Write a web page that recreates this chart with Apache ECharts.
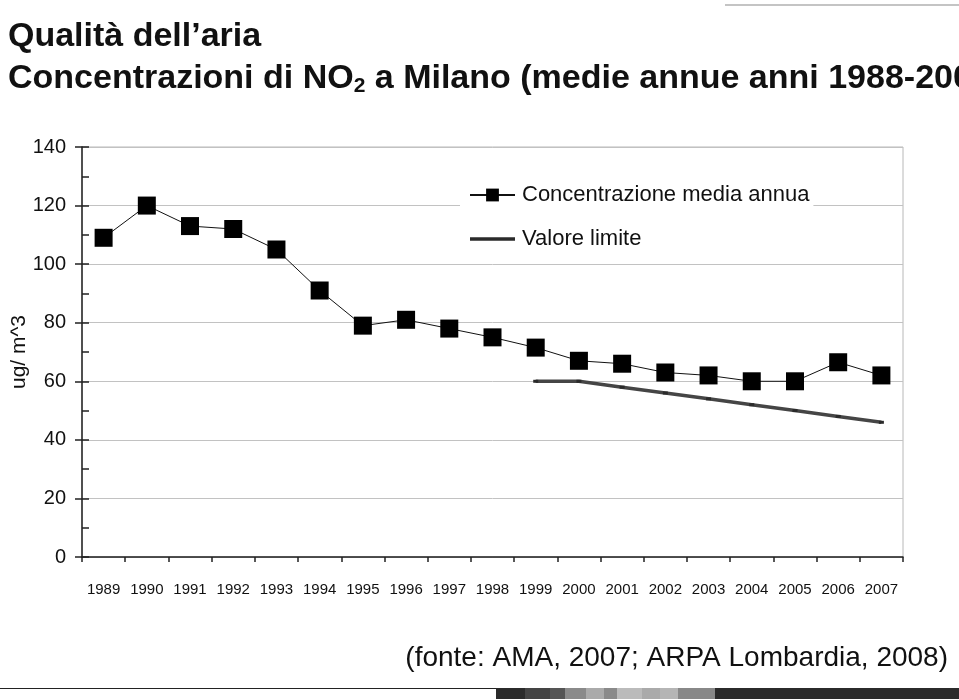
<!DOCTYPE html>
<html><head><meta charset="utf-8">
<script src="https://cdn.jsdelivr.net/npm/echarts@6/dist/echarts.min.js"></script>
<style>html,body{margin:0;padding:0;background:#fff}#c{width:959px;height:700px}</style>
</head><body><div id="c"></div>
<script>
// ---- data ----
const years = ['1989','1990','1991','1992','1993','1994','1995','1996','1997','1998',
               '1999','2000','2001','2002','2003','2004','2005','2006','2007'];
const concentrazione = [109,120,113,112,105,91,79,81,78,75,71.5,67,66,63,62,60,60,66.5,62];
const valoreLimite = [null,null,null,null,null,null,null,null,null,null,60,60,58,56,54,52,50,48,46];
const seriesNames = ['Concentrazione media annua','Valore limite'];
const yMin = 0, yMax = 140, yStep = 20, yMinorStep = 10;
const titleLine1 = 'Qualità dell\u2019aria';
const titleLine2a = 'Concentrazioni di NO', titleSub = '2', titleLine2b = ' a Milano (medie annue anni 1988-2007)';
const yAxisName = 'ug/ m^3';
const sourceText = '(fonte: AMA, 2007; ARPA Lombardia, 2008)';

const FONT = '"Liberation Sans", Arial, Helvetica, sans-serif';
const chart = echarts.init(document.getElementById('c'), null, {renderer:'canvas'});

// decorative footer strip (greys)
const strip = [[496,525,'#2b2b2b'],[525,550,'#444'],[550,565,'#555'],[565,586,'#8a8a8a'],[586,604,'#aaa'],
  [604,617,'#8a8a8a'],[617,642,'#bbb'],[642,660,'#aaa'],[660,678,'#b5b5b5'],[678,715,'#888'],[715,959,'#2b2b2b']];
const graphics = strip.map(s => ({type:'rect', silent:true, shape:{x:s[0], y:688, width:s[1]-s[0], height:11}, style:{fill:s[2]}}));
graphics.push({type:'line', silent:true, shape:{x1:0,y1:688.5,x2:496,y2:688.5}, style:{stroke:'#222', lineWidth:1}});
graphics.push({type:'line', silent:true, shape:{x1:725,y1:5,x2:959,y2:5}, style:{stroke:'#c4c4c4', lineWidth:2}});
graphics.push({type:'text', silent:true, x:948, y:658, style:{text:sourceText, font:'28px '+FONT, fill:'#111', align:'right', verticalAlign:'middle'}});

chart.setOption({
  animation:false,
  backgroundColor:'#fff',
  title:[
    {text:titleLine1, left:8, top:20, padding:0,
     textStyle:{fontFamily:FONT, fontWeight:'bold', fontSize:34, color:'#111'}},
    {text:'{a|'+titleLine2a+'}{s|'+titleSub+'}{a|'+titleLine2b+'}', left:8, top:60, padding:0,
     textStyle:{rich:{
       a:{fontFamily:FONT, fontWeight:'bold', fontSize:34, color:'#111', lineHeight:38},
       s:{fontFamily:FONT, fontWeight:'bold', fontSize:21, color:'#111', lineHeight:38, padding:[15,0,0,0]}
     }}}
  ],
  legend:{
    orient:'vertical', left:460, top:178, padding:[5,4,5,9], itemGap:20,
    itemWidth:45, itemHeight:16, backgroundColor:'#fff',
    textStyle:{fontFamily:FONT, fontSize:22, color:'#111', lineHeight:24, padding:[0,0,0,2]},
    data:[{name:seriesNames[0]}, {name:seriesNames[1], icon:'path://M0,0H45V3.5H0Z'}]
  },
  grid:{left:82, right:56, top:147, bottom:143, show:true, borderColor:'#b8b8b8', borderWidth:1,
        containLabel:false, outerBoundsMode:'none'},
  xAxis:{
    type:'category', data:years, boundaryGap:true,
    axisLine:{lineStyle:{color:'#222', width:1.5}},
    axisTick:{show:true, length:5, alignWithLabel:false, lineStyle:{color:'#222', width:1.5}},
    axisLabel:{fontFamily:FONT, fontSize:15, color:'#111', margin:25, interval:0},
    splitLine:{show:false}
  },
  yAxis:[
    {type:'value', min:yMin, max:yMax, interval:yStep,
     name:yAxisName, nameLocation:'middle', nameGap:52, nameRotate:90, nameMoveOverlap:false,
     nameTextStyle:{fontFamily:FONT, fontSize:21, color:'#111'},
     axisLine:{show:true, lineStyle:{color:'#222', width:1.5}},
     axisTick:{show:true, length:7, lineStyle:{color:'#222', width:1.5}},
     axisLabel:{fontFamily:FONT, fontSize:20, color:'#111', margin:16},
     splitLine:{show:true, lineStyle:{color:'#c2c2c2', width:1}}},
    {type:'value', min:yMin, max:yMax, interval:yMinorStep, position:'left',
     axisLine:{show:false}, axisLabel:{show:false}, splitLine:{show:false},
     axisTick:{show:true, inside:true, length:7, lineStyle:{color:'#222', width:1.5}}}
  ],
  series:[
    {name:seriesNames[0], type:'line', data:concentrazione, yAxisIndex:0,
     symbol:'rect', symbolSize:18, showAllSymbol:true, z:3,
     lineStyle:{color:'#111', width:1}, itemStyle:{color:'#000'}},
    {name:seriesNames[1], type:'line', data:valoreLimite, yAxisIndex:0,
     symbol:'rect', symbolSize:[5,3], showAllSymbol:true, z:2,
     lineStyle:{color:'#454545', width:3.5}, itemStyle:{color:'#2a2a2a'}}
  ],
  graphic:graphics
});
</script></body></html>
